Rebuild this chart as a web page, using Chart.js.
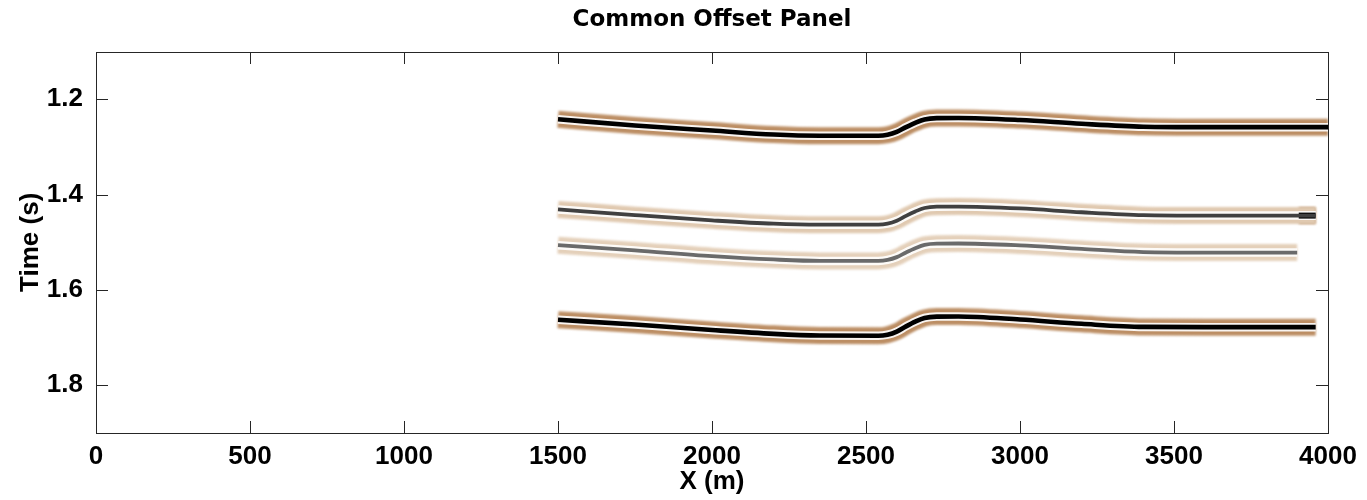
<!DOCTYPE html>
<html>
<head>
<meta charset="utf-8">
<script src="https://cdn.jsdelivr.net/npm/chart.js@4.4.1/dist/chart.umd.min.js"></script>
<style>
  html, body { margin: 0; padding: 0; background: #ffffff; }
  #c { display: block; }
</style>
</head>
<body>
<canvas id="c" width="1367" height="500"></canvas>
<script>
// Axis ticks
const xTicks = [0, 500, 1000, 1500, 2000, 2500, 3000, 3500, 4000];
const tTicks = [1.2, 1.4, 1.6, 1.8];

// Reflection events: offset positions (m) and two-way times (s)
const x1 = [1500, 1750, 2000, 2200, 2350, 2540, 2570, 2600, 2630, 2660, 2690, 2730, 2800, 3000, 3200, 3400, 3600, 4000];
const t1 = [1.242, 1.255, 1.2656, 1.274, 1.2765, 1.2765, 1.2745, 1.2685, 1.2584, 1.2493, 1.2422, 1.2395, 1.2392, 1.2435, 1.2515, 1.2575, 1.2585, 1.2585];

const x2 = [1500, 1750, 2000, 2200, 2350, 2540, 2570, 2600, 2630, 2660, 2690, 2730, 2800, 3000, 3200, 3400, 3600, 3960];
const t2 = [1.431, 1.443, 1.454, 1.461, 1.463, 1.463, 1.461, 1.4548, 1.4445, 1.4353, 1.428, 1.4253, 1.425, 1.429, 1.437, 1.443, 1.444, 1.444];

const x3 = [1500, 1750, 2000, 2200, 2350, 2540, 2570, 2600, 2630, 2660, 2690, 2730, 2800, 3000, 3200, 3400, 3600, 3900];
const t3 = [1.506, 1.517, 1.529, 1.536, 1.539, 1.539, 1.537, 1.5311, 1.5213, 1.5124, 1.5054, 1.5028, 1.5025, 1.5065, 1.514, 1.5205, 1.5215, 1.5215];

const x4 = [1500, 1750, 2000, 2200, 2350, 2540, 2570, 2600, 2630, 2660, 2690, 2730, 2800, 3000, 3200, 3400, 3600, 3960];
const t4 = [1.6625, 1.6725, 1.684, 1.692, 1.6955, 1.696, 1.6938, 1.6873, 1.6763, 1.6664, 1.6587, 1.6558, 1.6555, 1.662, 1.671, 1.6775, 1.678, 1.678];

// Strong trace at the far end of the second event
const x2end = [3905, 3960];
const t2end = [1.444, 1.444];

const LABEL_FONT = "'Liberation Sans', Arial, Helvetica, sans-serif";
const TITLE_FONT = "'DejaVu Sans', 'Liberation Sans', Arial, sans-serif";

function pts(xs, ts) {
  return xs.map((v, i) => ({ x: v, y: ts[i] }));
}

// Each event is drawn as a wavelet: brown side lobes, a pale gap and a dark peak
function wavelet(xs, ts, lobe, core, coreWidth) {
  const data = pts(xs, ts);
  const base = {
    data,
    pointRadius: 0,
    pointHoverRadius: 0,
    cubicInterpolationMode: 'monotone',
    fill: false,
    borderCapStyle: 'butt',
  };
  return [
    Object.assign({}, base, { borderColor: lobe, borderWidth: 17, order: 3, blurPx: 1.3 }),
    Object.assign({}, base, { borderColor: 'rgba(255,255,255,0.9)', borderWidth: 8.5, order: 2, blurPx: 0.6 }),
    Object.assign({}, base, { borderColor: core, borderWidth: coreWidth, order: 1, blurPx: 0.45 }),
  ];
}

const datasets = [].concat(
  wavelet(x1, t1, 'rgb(188,142,100)', '#000000', 4.6),
  wavelet(x2, t2, 'rgb(224,201,176)', '#404040', 3.8),
  wavelet(x3, t3, 'rgb(228,208,186)', '#6a6a6a', 3.8),
  wavelet(x4, t4, 'rgb(188,142,100)', '#000000', 4.6),
  wavelet(x2end, t2end, 'rgb(192,152,114)', '#000000', 6)
);

// Soft edges for the traces
const softTrace = {
  id: 'softTrace',
  beforeDatasetDraw(chart, args) {
    const ds = chart.data.datasets[args.index];
    chart.ctx.save();
    if (ds.blurPx) chart.ctx.filter = 'blur(' + ds.blurPx + 'px)';
  },
  afterDatasetDraw(chart) {
    chart.ctx.restore();
  }
};

// Axes box with inward tick marks on all four sides
const frameTicks = {
  id: 'frameTicks',
  afterDatasetsDraw(chart) {
    const { ctx, chartArea, scales } = chart;
    const left = Math.round(chartArea.left), right = Math.round(chartArea.right);
    const top = Math.round(chartArea.top), bottom = Math.round(chartArea.bottom);
    const L = 12;
    ctx.save();
    ctx.strokeStyle = '#262626';
    ctx.lineWidth = 1;
    ctx.beginPath();
    scales.x.ticks.forEach(t => {
      const px = Math.round(scales.x.getPixelForValue(t.value)) + 0.5;
      ctx.moveTo(px, bottom); ctx.lineTo(px, bottom - L);
      ctx.moveTo(px, top); ctx.lineTo(px, top + L);
    });
    scales.y.ticks.forEach(t => {
      const py = Math.round(scales.y.getPixelForValue(t.value)) + 0.5;
      ctx.moveTo(left, py); ctx.lineTo(left + L, py);
      ctx.moveTo(right, py); ctx.lineTo(right - L, py);
    });
    ctx.stroke();
    ctx.strokeRect(left + 0.5, top + 0.5, right - left, bottom - top);
    ctx.restore();
  }
};

new Chart(document.getElementById('c'), {
  type: 'line',
  data: { datasets },
  plugins: [softTrace, frameTicks],
  options: {
    responsive: false,
    animation: false,
    events: [],
    layout: { padding: { left: 0, right: 39, top: 0, bottom: 0 } },
    plugins: {
      legend: { display: false },
      tooltip: { enabled: false },
      title: {
        display: true,
        fullSize: false,
        text: 'Common Offset Panel',
        color: '#000000',
        font: { family: TITLE_FONT, size: 23, weight: 'bold' },
        padding: { top: 6, bottom: 18 }
      }
    },
    scales: {
      x: {
        type: 'linear',
        min: 0,
        max: 4000,
        grid: { display: false },
        border: { display: false },
        afterBuildTicks: s => { s.ticks = xTicks.map(v => ({ value: v })); },
        afterFit: s => { s.height = 67; },
        ticks: {
          color: '#000000',
          padding: 0,
          maxRotation: 0,
          font: { family: LABEL_FONT, size: 26, weight: 'bold' },
          callback: v => String(v)
        },
        title: {
          display: true,
          text: 'X (m)',
          color: '#000000',
          font: { family: LABEL_FONT, size: 26, weight: 'bold' },
          padding: { top: 0, bottom: 3 }
        }
      },
      y: {
        type: 'linear',
        min: 1.1,
        max: 1.9,
        reverse: true,
        grid: { display: false },
        border: { display: false },
        afterBuildTicks: s => { s.ticks = tTicks.map(v => ({ value: v })); },
        afterFit: s => { s.width = 96; },
        ticks: {
          color: '#000000',
          padding: 5,
          font: { family: LABEL_FONT, size: 26, weight: 'bold' },
          callback: v => Number(v).toFixed(1)
        },
        title: {
          display: true,
          text: 'Time (s)',
          color: '#000000',
          font: { family: LABEL_FONT, size: 26, weight: 'bold' },
          padding: { top: 15, bottom: 0 }
        }
      }
    }
  }
});
</script>
</body>
</html>
